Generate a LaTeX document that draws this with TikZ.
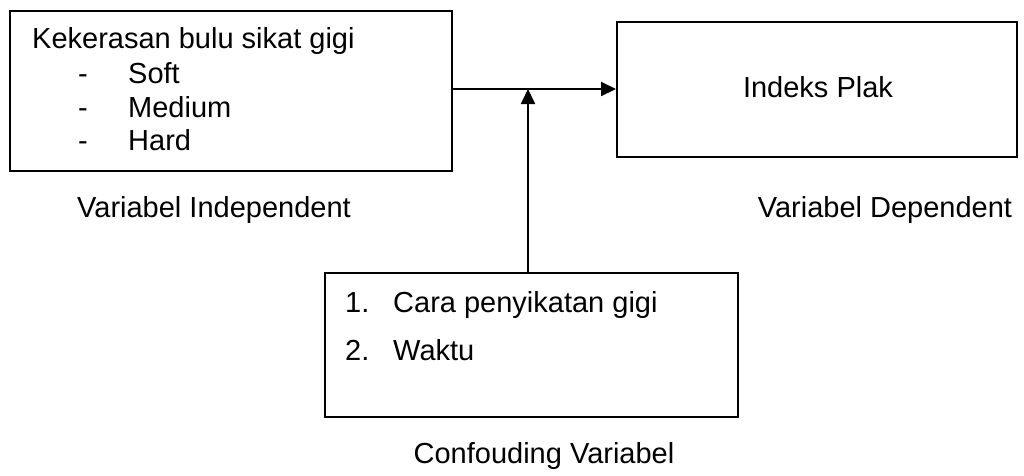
\documentclass[tikz,border=0pt]{standalone}
\usepackage{fontspec}
\setmainfont{Liberation Sans}
\usetikzlibrary{arrows.meta}
\begin{document}
\begin{tikzpicture}[x=1pt,y=-1pt,
  box/.style={draw,line width=2pt,inner sep=0pt},
  txt/.style={inner sep=0pt,font=\fontsize{29}{34}\selectfont},
  arr/.style={line width=2pt,-{Triangle[length=15pt,width=14pt]}}]
\useasboundingbox (0,0) rectangle (1024,475);
\node[box,minimum width=442pt,minimum height=160pt] (ind) at (231,90.5) {};
\node[box,minimum width=400pt,minimum height=135pt] (dep) at (817,89.5) {};
\node[box,minimum width=413pt,minimum height=144pt] (conf) at (531.5,345) {};
% left box text
\node[txt,anchor=base west] (t1) at (32,48) {Kekerasan bulu sikat gigi};
\node[txt,anchor=base west] (d1) at (78,83) {-};
\node[txt,anchor=base west] (t2) at (128,83) {Soft};
\node[txt,anchor=base west] (d2) at (78,117) {-};
\node[txt,anchor=base west] (t3) at (128,117) {Medium};
\node[txt,anchor=base west] (d3) at (78,150) {-};
\node[txt,anchor=base west] (t4) at (128,150) {Hard};
% right box text
\node[txt,anchor=base] (t5) at (818,97) {Indeks Plak};
% bottom box text
\node[txt,anchor=base west] (n1) at (345,312) {1.};
\node[txt,anchor=base west] (c1) at (393,312) {Cara penyikatan gigi};
\node[txt,anchor=base west] (n2) at (345,360) {2.};
\node[txt,anchor=base west] (c2) at (393,360) {Waktu};
% captions
\node[txt,anchor=base west] (l1) at (77,217) {Variabel Independent};
\node[txt,anchor=base] (l2) at (885,217) {Variabel Dependent};
\node[txt,anchor=base] (l3) at (544,463) {Confouding Variabel};
% connectors
\coordinate (j) at (528,89);
\draw[arr] (ind.east |- j) -- (dep.west |- j);
\draw[arr] (j |- conf.north) -- (j);
\end{tikzpicture}
\end{document}
